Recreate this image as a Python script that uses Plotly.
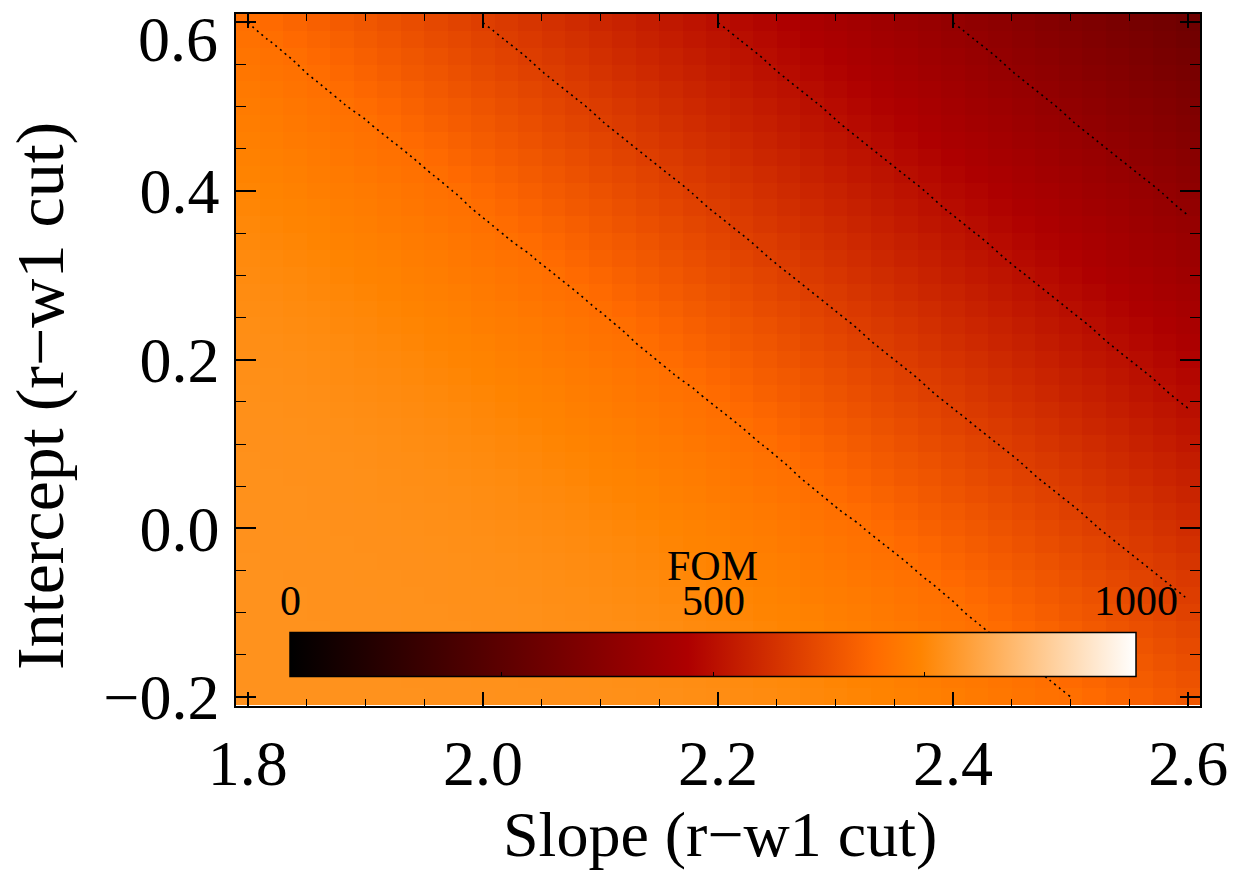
import plotly.graph_objects as go

# ---------------- data ----------------
slope = [1.80, 1.82, 1.84, 1.86, 1.88, 1.90, 1.92, 1.94, 1.96, 1.98,
         2.00, 2.02, 2.04, 2.06, 2.08, 2.10, 2.12, 2.14, 2.16, 2.18,
         2.20, 2.22, 2.24, 2.26, 2.28, 2.30, 2.32, 2.34, 2.36, 2.38,
         2.40, 2.42, 2.44, 2.46, 2.48, 2.50, 2.52, 2.54, 2.56, 2.58, 2.60]

intercept = [-0.20, -0.18, -0.16, -0.14, -0.12, -0.10, -0.08, -0.06, -0.04, -0.02,
             0.00, 0.02, 0.04, 0.06, 0.08, 0.10, 0.12, 0.14, 0.16, 0.18,
             0.20, 0.22, 0.24, 0.26, 0.28, 0.30, 0.32, 0.34, 0.36, 0.38,
             0.40, 0.42, 0.44, 0.46, 0.48, 0.50, 0.52, 0.54, 0.56, 0.58, 0.60]

# FOM grid: one row per intercept value (bottom row first), one column per slope value
fom = [
    [775,774,774,774,774,774,774,774,773,773,773,772,772,771,771,770,769,768,767,765,764,762,760,757,754,751,748,744,739,735,730,724,718,712,706,700,690,680,670,660,650],
    [774,774,774,774,774,774,774,773,773,773,772,772,771,771,770,769,768,767,765,764,762,760,757,755,752,748,744,740,735,730,725,719,713,707,701,691,681,671,661,651,641],
    [774,774,774,774,774,774,773,773,773,772,772,771,771,770,769,768,767,766,764,762,760,758,755,752,749,745,741,736,731,726,720,714,708,702,692,682,672,662,652,642,632],
    [774,774,774,774,774,773,773,773,772,772,771,771,770,769,768,767,766,764,762,760,758,755,752,749,745,741,737,732,726,721,715,709,702,694,684,674,664,654,644,634,624],
    [774,774,774,774,773,773,773,772,772,772,771,770,769,768,767,766,765,763,761,758,756,753,749,746,742,737,732,727,721,715,709,703,695,685,675,665,655,645,635,625,615],
    [774,774,774,773,773,773,773,772,772,771,770,770,769,767,766,765,763,761,759,756,753,750,746,742,738,733,728,722,716,710,704,696,686,676,666,656,646,636,626,616,606],
    [774,774,774,773,773,773,772,772,771,770,770,769,768,766,765,763,761,759,756,754,750,747,743,738,733,728,723,717,711,705,698,688,678,668,658,648,638,628,618,608,598],
    [774,774,773,773,773,772,772,771,771,770,769,768,767,765,763,762,759,757,754,751,747,743,739,734,729,723,718,712,705,699,689,679,669,659,649,639,629,619,609,599,589],
    [774,773,773,773,772,772,771,771,770,769,768,767,765,764,762,760,757,754,751,748,744,739,735,730,724,718,712,706,700,690,680,670,660,650,640,630,620,610,600,590,580],
    [773,773,773,772,772,771,771,770,769,768,767,765,764,762,760,757,755,752,748,744,740,735,730,725,719,713,707,701,691,681,671,661,651,641,631,621,611,601,591,581,571],
    [773,773,772,772,771,771,770,769,768,767,766,764,762,760,758,755,752,749,745,741,736,731,726,720,714,708,702,692,682,672,662,652,642,632,622,612,602,592,582,572,562],
    [773,772,772,771,771,770,769,768,767,766,764,762,760,758,755,752,749,745,741,737,732,726,721,715,709,702,694,684,674,664,654,644,634,624,614,604,594,584,574,564,554],
    [772,772,772,771,770,769,768,767,766,765,763,761,758,756,753,749,746,742,737,732,727,721,715,709,703,695,685,675,665,655,645,635,625,615,605,595,585,575,565,555,545],
    [772,772,771,770,770,769,767,766,765,763,761,759,756,753,750,746,742,738,733,728,722,716,710,704,696,686,676,666,656,646,636,626,616,606,596,586,576,566,556,546,536],
    [772,771,770,770,769,768,766,765,763,761,759,756,754,750,747,743,738,733,728,723,717,711,705,698,688,678,668,658,648,638,628,618,608,598,588,578,568,558,548,538,528],
    [771,771,770,769,768,767,765,763,762,759,757,754,751,747,743,739,734,729,723,718,712,705,699,689,679,669,659,649,639,629,619,609,599,589,579,569,559,549,539,529,519],
    [771,770,769,768,767,765,764,762,760,757,754,751,748,744,739,735,730,724,718,712,706,700,690,680,670,660,650,640,630,620,610,600,590,580,570,560,550,540,530,520,510],
    [770,769,768,767,765,764,762,760,757,755,752,748,744,740,735,730,725,719,713,707,701,691,681,671,661,651,641,631,621,611,601,591,581,571,561,551,541,531,521,511,501],
    [769,768,767,766,764,762,760,758,755,752,749,745,741,736,731,726,720,714,708,702,692,682,672,662,652,642,632,622,612,602,592,582,572,562,552,542,532,522,512,502,492],
    [768,767,766,764,762,760,758,755,752,749,745,741,737,732,726,721,715,709,702,694,684,674,664,654,644,634,624,614,604,594,584,574,564,554,544,534,524,514,504,494,484],
    [767,766,765,763,761,758,756,753,749,746,742,737,732,727,721,715,709,703,695,685,675,665,655,645,635,625,615,605,595,585,575,565,555,545,535,525,515,505,495,485,475],
    [766,765,763,761,759,756,753,750,746,742,738,733,728,722,716,710,704,696,686,676,666,656,646,636,626,616,606,596,586,576,566,556,546,536,526,516,506,496,486,476,466],
    [765,763,761,759,756,754,750,747,743,738,733,728,723,717,711,705,698,688,678,668,658,648,638,628,618,608,598,588,578,568,558,548,538,528,518,508,498,488,478,468,458],
    [763,762,759,757,754,751,747,743,739,734,729,723,718,712,705,699,689,679,669,659,649,639,629,619,609,599,589,579,569,559,549,539,529,519,509,499,489,479,469,459,449],
    [762,760,757,754,751,748,744,739,735,730,724,718,712,706,700,690,680,670,660,650,640,630,620,610,600,590,580,570,560,550,540,530,520,510,500,490,480,470,460,450,440],
    [760,757,755,752,748,744,740,735,730,725,719,713,707,701,691,681,671,661,651,641,631,621,611,601,591,581,571,561,551,541,531,521,511,501,491,481,471,461,451,441,431],
    [758,755,752,749,745,741,736,731,726,720,714,708,702,692,682,672,662,652,642,632,622,612,602,592,582,572,562,552,542,532,522,512,502,492,482,472,462,452,442,432,422],
    [755,752,749,745,741,737,732,726,721,715,709,702,694,684,674,664,654,644,634,624,614,604,594,584,574,564,554,544,534,524,514,504,494,484,474,464,454,444,434,424,414],
    [753,749,746,742,737,732,727,721,715,709,703,695,685,675,665,655,645,635,625,615,605,595,585,575,565,555,545,535,525,515,505,495,485,475,465,455,445,435,425,415,405],
    [750,746,742,738,733,728,722,716,710,704,696,686,676,666,656,646,636,626,616,606,596,586,576,566,556,546,536,526,516,506,496,486,476,466,456,446,436,426,416,406,396],
    [747,743,738,733,728,723,717,711,705,698,688,678,668,658,648,638,628,618,608,598,588,578,568,558,548,538,528,518,508,498,488,478,468,458,448,438,428,418,408,398,388],
    [743,739,734,729,723,718,712,705,699,689,679,669,659,649,639,629,619,609,599,589,579,569,559,549,539,529,519,509,499,489,479,469,459,449,439,429,419,409,399,389,379],
    [739,735,730,724,718,712,706,700,690,680,670,660,650,640,630,620,610,600,590,580,570,560,550,540,530,520,510,500,490,480,470,460,450,440,430,420,410,400,390,380,370],
    [735,730,725,719,713,707,701,691,681,671,661,651,641,631,621,611,601,591,581,571,561,551,541,531,521,511,501,491,481,471,461,451,441,431,421,411,401,391,381,371,361],
    [731,726,720,714,708,702,692,682,672,662,652,642,632,622,612,602,592,582,572,562,552,542,532,522,512,502,492,482,472,462,452,442,432,422,412,402,392,382,372,362,352],
    [726,721,715,709,702,694,684,674,664,654,644,634,624,614,604,594,584,574,564,554,544,534,524,514,504,494,484,474,464,454,444,434,424,414,404,394,384,374,364,354,344],
    [721,715,709,703,695,685,675,665,655,645,635,625,615,605,595,585,575,565,555,545,535,525,515,505,495,485,475,465,455,445,435,425,415,405,395,385,375,365,355,345,335],
    [716,710,704,696,686,676,666,656,646,636,626,616,606,596,586,576,566,556,546,536,526,516,506,496,486,476,466,456,446,436,426,416,406,396,386,376,366,356,346,336,326],
    [711,705,698,688,678,668,658,648,638,628,618,608,598,588,578,568,558,548,538,528,518,508,498,488,478,468,458,448,438,428,418,408,398,388,378,368,358,348,338,328,318],
    [705,699,689,679,669,659,649,639,629,619,609,599,589,579,569,559,549,539,529,519,509,499,489,479,469,459,449,439,429,419,409,399,389,379,369,359,349,339,329,319,309],
    [700,690,680,670,660,650,640,630,620,610,600,590,580,570,560,550,540,530,520,510,500,490,480,470,460,450,440,430,420,410,400,390,380,370,360,350,340,330,320,310,300],
]

contour_levels = [400, 500, 600, 700]
cbar_ticks = [0, 250, 500, 750, 1000]
cbar_labels = ["0", "500", "1000"]
cbar_label_values = [0, 500, 1000]
cbar_title = "FOM"
x_title = "Slope (r\u2212w1 cut)"
y_title = "Intercept (r\u2212w1 cut)"
x_ticks = [1.8, 2.0, 2.2, 2.4, 2.6]
x_ticktext = ["1.8", "2.0", "2.2", "2.4", "2.6"]
y_ticks = [-0.2, 0.0, 0.2, 0.4, 0.6]
y_ticktext = ["\u22120.2", "0.0", "0.2", "0.4", ""]
y_top_label = "0.6"

assert len(fom) == len(intercept)
for r in fom:
    assert len(r) == len(slope)

# ---------------- style ----------------
W, H = 1244, 874
L, R, T, B = 236, 44, 12, 168
PW, PH = W - L - R, H - T - B
FONT = "Liberation Serif"


def px(xp):
    return (xp - L) / PW


def py(yp):
    return (H - B - yp) / PH


# IDL "red temperature"-like colour table
hot = [
    [0.0, "rgb(0,0,0)"],
    [120 / 255, "rgb(174,0,0)"],
    [176 / 255, "rgb(255,106,0)"],
    [190 / 255, "rgb(255,132,0)"],
    [1.0, "rgb(255,255,255)"],
]

fig = go.Figure()

fig.add_trace(go.Heatmap(
    x=slope, y=intercept, z=fom,
    zmin=0, zmax=1000, colorscale=hot,
    hoverinfo="skip",
    colorbar=dict(
        orientation="h",
        x=px(290), xanchor="left",
        y=py(683), yanchor="bottom",
        len=(1136 - 290) / PW, lenmode="fraction",
        thickness=44, thicknessmode="pixels",
        xpad=0, ypad=0,
        outlinewidth=1.5, outlinecolor="black",
        tickvals=cbar_ticks, ticks="inside", ticklen=5,
        tickcolor="black", tickwidth=1,
        showticklabels=False,
    ),
))

fig.add_trace(go.Contour(
    x=slope, y=intercept, z=fom,
    autocontour=False,
    contours=dict(start=contour_levels[0], end=contour_levels[-1],
                  size=contour_levels[1] - contour_levels[0],
                  coloring="none"),
    line=dict(color="black", width=1.6, dash="2px,4px"),
    showscale=False, hoverinfo="skip",
))

axis_common = dict(
    showline=True, linecolor="black", linewidth=1.5, mirror="allticks",
    ticks="inside", tickcolor="black", tickwidth=1.5,
    showgrid=False, zeroline=False,
    tickfont=dict(family=FONT, size=64, color="black"),
)

fig.update_xaxes(
    range=[1.79, 2.61], tickmode="array", tickvals=x_ticks, ticktext=x_ticktext,
    ticklen=14, ticklabelstandoff=0,
    minor=dict(tick0=1.8, dtick=0.05, ticks="inside", ticklen=7,
               tickcolor="black", tickwidth=1.2),
    **axis_common,
)
fig.update_yaxes(
    range=[-0.2107, 0.61], tickmode="array", tickvals=y_ticks, ticktext=y_ticktext,
    ticklen=20, ticklabelstandoff=2,
    minor=dict(tick0=-0.2, dtick=0.05, ticks="inside", ticklen=10,
               tickcolor="black", tickwidth=1.2),
    **axis_common,
)

ann = []
# top y tick label (drawn a bit lower, as in the original)
ann.append(dict(x=px(220), y=py(38), xref="paper", yref="paper", text=y_top_label,
                showarrow=False, xanchor="right", yanchor="middle",
                font=dict(family=FONT, size=64, color="black")))
# colour bar labels
cb_x0, cb_x1 = 290, 1136
for v, t in zip(cbar_label_values, cbar_labels):
    xp = cb_x0 + (cb_x1 - cb_x0) * v / 1000
    ann.append(dict(x=px(xp), y=py(601), xref="paper", yref="paper", text=t,
                    showarrow=False, xanchor="center", yanchor="middle",
                    font=dict(family=FONT, size=42, color="black")))
ann.append(dict(x=px(712), y=py(566), xref="paper", yref="paper", text=cbar_title,
                showarrow=False, xanchor="center", yanchor="middle",
                font=dict(family=FONT, size=42, color="black")))
# axis titles
ann.append(dict(x=px(720), y=py(835), xref="paper", yref="paper", text=x_title,
                showarrow=False, xanchor="center", yanchor="middle",
                font=dict(family=FONT, size=64, color="black")))
ann.append(dict(x=px(40), y=py(395), xref="paper", yref="paper", text=y_title,
                showarrow=False, xanchor="center", yanchor="middle", textangle=-90,
                font=dict(family=FONT, size=68, color="black")))

fig.update_layout(
    width=W, height=H,
    margin=dict(l=L, r=R, t=T, b=B, pad=0),
    paper_bgcolor="white", plot_bgcolor="white",
    showlegend=False,
    annotations=ann,
)

fig.write_html("out.html", config={"displayModeBar": False})
